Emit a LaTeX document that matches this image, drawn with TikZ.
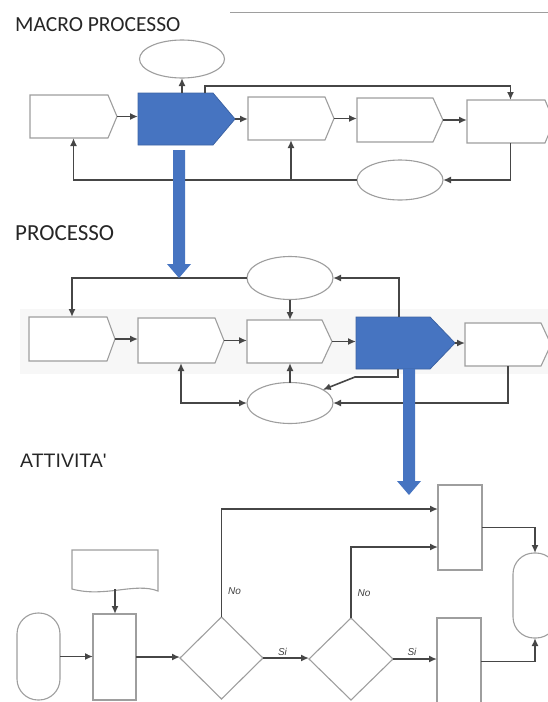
\documentclass[tikz,border=0pt]{standalone}
\usepackage{fontspec}
\setmainfont{Carlito}
\newfontfamily\arialfont{Liberation Sans}
\usetikzlibrary{shapes.geometric,arrows.meta,calc}

\definecolor{flowblue}{RGB}{70,116,193}
\definecolor{wire}{RGB}{70,70,70}
\definecolor{rim}{RGB}{158,158,158}

\tikzset{
  tip/.tip={Latex[length=8pt,width=7pt]},
  conn/.style={draw=wire, line width=1.6pt, -tip},
  conntwo/.style={draw=wire, line width=1.6pt, tip-tip},
  box/.style={draw=rim, line width=1.1pt, fill=white},
  bluebox/.style={draw=flowblue!85!black, line width=0.8pt, fill=flowblue},
  frame/.style={rectangle, draw=none, inner sep=0pt, outer sep=0pt},
  ell/.style={ellipse, draw=rim, line width=1.1pt, fill=white, inner sep=0pt, outer sep=0pt},
  rect/.style={rectangle, draw=rim, line width=1.1pt, fill=white, inner sep=0pt, outer sep=0pt},
  stadium/.style={rect, rounded corners=21pt},
  decision/.style={diamond, draw=rim, line width=1.1pt, fill=white, inner sep=0pt, outer sep=0pt},
  heading/.style={anchor=base west, inner sep=0pt, text=black!85, font=\fontsize{23}{27}\selectfont},
  lab/.style={inner sep=0pt, text=black!75, font=\arialfont\itshape\fontsize{10}{12}\selectfont},
}

% name, x, y, width, height, point depth, style
\newcommand\chevnode[7]{%
  \node[frame, minimum width=#4pt, minimum height=#5pt] (#1) at (#2,#3) {};
  \path[#7] (#1.north west) -- ([xshift=-#6pt]#1.north east) -- (#1.east)
    -- ([xshift=-#6pt]#1.south east) -- (#1.south west) -- cycle;}

% broad blue down arrow from coordinate #1, total length #2
\newcommand\bigdown[2]{%
  \begin{scope}[shift={(#1)}]
    \fill[flowblue] (-6,0) -- (6,0) -- (6,#2-14) -- (12,#2-14) -- (0,#2)
      -- (-12,#2-14) -- (-6,#2-14) -- cycle;
  \end{scope}}

\begin{document}
\begin{tikzpicture}[x=1pt, y=-1pt]
\useasboundingbox (0,0) rectangle (548,702);
\clip (0,0) rectangle (548,702);

% header rule
\draw[rim, line width=1pt] (230,12) -- (548,12);

% ---------------- MACRO PROCESSO ----------------
\node[heading, font=\fontsize{21.5}{26}\selectfont] (t1) at (15,31.5) {MACRO PROCESSO};

\node[ell, minimum width=85pt, minimum height=38pt] (e1) at (182,59) {};
\chevnode{b1}{73.5}{116.5}{87}{43}{9}{box}
\chevnode{bl1}{186.5}{119}{97}{52}{22}{bluebox}
\chevnode{b3}{291}{118.5}{86}{43}{9}{box}
\chevnode{b4}{400}{120}{86}{44}{10}{box}
\chevnode{b5}{510.5}{121.5}{87}{43}{9}{box}
\node[ell, minimum width=86pt, minimum height=40pt] (e2) at (400,180) {};

\draw[conn] (b1.east) -- (b1.east -| bl1.west);
\draw[conn] (bl1.east) -- (bl1.east -| b3.west);
\draw[conn] (b3.east) -- (b3.east -| b4.west);
\draw[conn] (b4.east) -- (b4.east -| b5.west);
\draw[conn] (e1.south |- bl1.north) -- (e1.south);
\draw[conn] ($(bl1.north)+(18.5,0)$) -- ++(0,-7) -| (b5.north);
\draw[conn] (b5.south) |- (e2.east);
\draw[conn] (e2.west) -| (b1.south);
\draw[conn] (b3.south |- e2.west) -- (b3.south);

% ---------------- PROCESSO ----------------
\node[heading] (t2) at (15,240.5) {PROCESSO};

\fill[black!3] (20,309) rectangle (548,374);

\node[ell, minimum width=86pt, minimum height=43pt] (e3) at (290,278) {};
\chevnode{a}{72}{339}{86}{44}{8}{box}
\chevnode{bB}{181}{340.5}{86}{45}{9}{box}
\chevnode{cC}{289.5}{341.5}{85}{43}{10}{box}
\chevnode{bl2}{405.5}{343}{99}{52}{25}{bluebox}
\chevnode{eE}{508}{344.5}{86}{43}{10}{box}
\node[ell, minimum width=86pt, minimum height=41pt] (e4) at (290,403) {};

\draw[conn] (e3.west) -| (a.north);
\draw[conn] (e3.south) -- (e3.south |- cC.north);
\draw[conn] ($(bl2.north)+(-6.5,0)$) |- (e3.east);
\draw[conn] (a.east) -- (a.east -| bB.west);
\draw[conn] (bB.east) -- (bB.east -| cC.west);
\draw[conn] (cC.east) -- (cC.east -| bl2.west);
\draw[conn] (bl2.east) -- (bl2.east -| eE.west);
\draw[conn] (e4.north) -- (e4.north |- cC.south);
\draw[conntwo] (bB.south) |- (e4.west);
\draw[conn] ($(bl2.south)+(-7.5,0)$) -- ++(0,8) -- ++(-43,0) -- (e4.22);
\draw[conn] (eE.south) |- (e4.east);

% ---------------- ATTIVITA' ----------------
\node[heading, font=\arialfont\fontsize{19.5}{23}\selectfont] (t3) at (20,467) {ATTIVITA'};

\node[stadium, minimum width=43pt, minimum height=87pt] (st1) at (38.5,656.5) {};
\node[frame, minimum width=86pt, minimum height=39pt] (doc) at (115,569.5) {};
\path[box] (doc.north west) -- (doc.north east) -- ($(doc.south east)+(0,2)$)
  .. controls ($(doc.south east)+(-23,-7)$) and ($(doc.south west)+(33,9)$) .. (doc.south west) -- cycle;
\node[rect, minimum width=43pt, minimum height=86pt] (r1) at (114.5,657) {};
\node[decision, minimum width=83pt, minimum height=82pt] (dm1) at (221.5,658) {};
\node[decision, minimum width=84pt, minimum height=82pt] (dm2) at (351,659) {};
\node[rect, minimum width=44pt, minimum height=85pt] (r3) at (460,527.5) {};
\node[rect, minimum width=44pt, minimum height=87pt] (r4) at (459,661.5) {};
\node[stadium, minimum width=44pt, minimum height=85pt] (st2) at (535,595.5) {};

\draw[conn] (doc.south) -- (doc.south |- r1.north);
\draw[conn] (st1.east) -- (st1.east -| r1.west);
\draw[conn] (r1.east) -- (r1.east -| dm1.west);
\draw[conn] (dm1.east) -- (dm1.east -| dm2.west);
\draw[conn] (dm2.east) -- (dm2.east -| r4.west);
\draw[conn] (dm1.north) |- ($(r3.west)+(0,-18.5)$);
\draw[conn] (dm2.north) |- ($(r3.west)+(0,19.5)$);
\draw[conn] (r3.east) -| (st2.north);
\draw[conn] (r4.east) -| (st2.south);

\node[lab] (no1) at (234.5,591.5) {No};
\node[lab] (no2) at (364,593.5) {No};
\node[lab] (si1) at (282.5,652) {Si};
\node[lab] (si2) at (412,652) {Si};

% level-to-level arrows
\coordinate (d1) at (179,150);
\coordinate (d2) at (409,369);
\bigdown{d1}{128}
\bigdown{d2}{126}

\end{tikzpicture}
\end{document}
